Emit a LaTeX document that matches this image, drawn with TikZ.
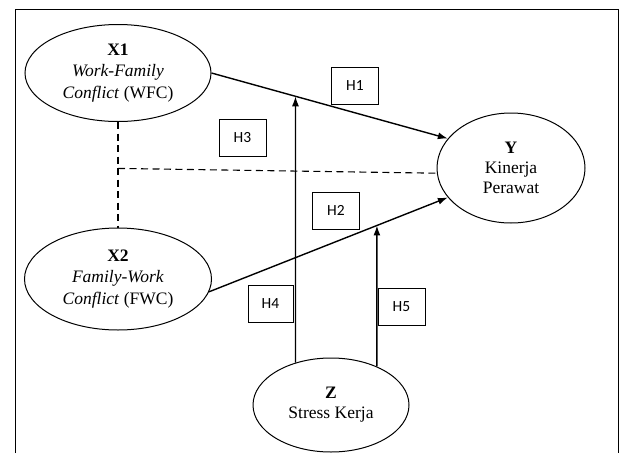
\documentclass[tikz,border=0pt]{standalone}
\usepackage{fontspec}
\setmainfont{Liberation Serif}
\newfontfamily\hfont{Carlito}
\usetikzlibrary{arrows.meta,positioning,calc,shapes.geometric}

\begin{document}
\begin{tikzpicture}[x=1pt, y=-1pt,
    font=\fontsize{17.5}{21.5}\selectfont,
    var/.style={ellipse, draw, line width=1pt, align=center, inner sep=0pt},
    hyp/.style={rectangle, draw, line width=0.9pt, minimum width=47pt,
      minimum height=37pt, font=\hfont\fontsize{15.5}{15.5}\selectfont},
    fl/.style={-{Latex[length=10pt, width=7pt]}, line width=1.4pt},
    kor/.style={line width=1.1pt, dash pattern=on 7pt off 4.5pt}]
    \useasboundingbox (0,0) rectangle (624,453);
    % bingkai
    \draw[line width=0.9pt] (15,453) -- (15,9) -- (618,9) -- (618,453);
    % variabel
    \node[var, minimum width=186pt, minimum height=97pt] (x1) at (118,73)
      {\textbf{X1}\\ \textit{Work-Family}\\ \textit{Conflict} (WFC)};
    \node[var, minimum width=187pt, minimum height=102pt] (x2) at (118,279)
      {\textbf{X2}\\ \textit{Family-Work}\\ \textit{Conflict} (FWC)};
    \node[var, minimum width=148pt, minimum height=110pt,
      font=\fontsize{17.5}{20}\selectfont] (y) at (511,168)
      {\textbf{Y}\\ Kinerja\\ Perawat};
    \node[var, minimum width=156pt, minimum height=94pt,
      font=\fontsize{17.5}{20}\selectfont] (z) at (331,405)
      {\textbf{Z}\\ Stress Kerja};
    % hipotesis
    \node[hyp] (h1) at (355,85.5) {H1};
    \node[hyp] (h3) at (242.5,138) {H3};
    \node[hyp] (h2) at (336,210.5) {H2};
    \node[hyp, minimum width=45pt] (h4) at (270.5,303.5) {H4};
    \node[hyp] (h5) at (401.5,307) {H5};
    % hubungan
    \draw[fl] (x1.east) -- (y.155);
    \draw[fl] (x2.-8) -- (y.205);
    \draw[kor] (x1.south) -- (x2.north);
    \coordinate (j) at ($(x1.south)!0.44!(x2.north)$);
    \draw[kor] (j) -- (y.184);
    \coordinate (z4) at ($(z.130)+(0,-200)$);
    \coordinate (z5) at ($(z.40)+(0,-200)$);
    \draw[fl] (z.130) -- (intersection of x1.east--y.155 and z.130--z4);
    \draw[fl] (z.40) -- (intersection of x2.-8--y.205 and z.40--z5);
\end{tikzpicture}
\end{document}
